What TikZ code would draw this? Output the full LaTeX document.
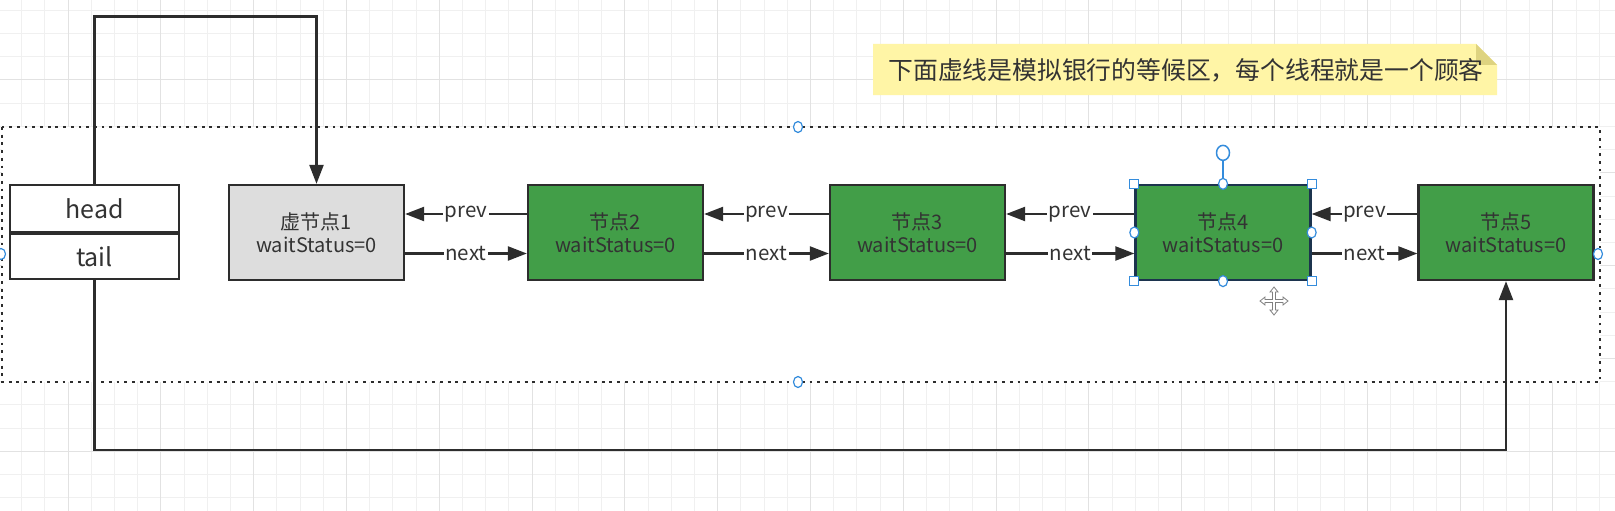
\documentclass[tikz,border=0pt]{standalone}
\usepackage{fontspec}
\setmainfont{Noto Sans CJK SC}
\usetikzlibrary{arrows.meta,calc}
\definecolor{gridminor}{RGB}{240,240,240}
\definecolor{gridmajor}{RGB}{226,226,226}
\definecolor{boxline}{RGB}{45,45,45}
\definecolor{txt}{RGB}{51,51,51}
\definecolor{nodegreen}{RGB}{66,158,72}
\definecolor{nodegray}{RGB}{221,221,221}
\definecolor{notefill}{RGB}{255,245,166}
\definecolor{notefold}{RGB}{222,211,128}
\definecolor{selblue}{RGB}{52,140,220}
\definecolor{selline}{RGB}{28,52,78}
\begin{document}
\begin{tikzpicture}[x=1pt,y=-1pt,
  box/.style={draw=boxline, line width=2.3pt, minimum width=175pt, minimum height=95pt,
    inner sep=0pt, align=center, text=txt, font=\fontsize{20}{23}\selectfont},
  greenbox/.style={box, fill=nodegreen},
  graybox/.style={box, fill=nodegray},
  ptrbox/.style={draw=boxline, line width=2.3pt, fill=white, minimum width=169pt,
    inner sep=0pt, text=txt, font=\fontsize{25}{25}\selectfont},
  arr/.style={draw=boxline, line width=2.3pt, -{Triangle[length=19pt,width=14pt]}},
  lbl/.style={fill=white, inner sep=1.5pt, text=txt, font=\fontsize{20.5}{20.5}\selectfont},
  zone/.style={draw=boxline, fill=white, line width=2.6pt, dash pattern=on 2.8pt off 4.9pt},
  handlesq/.style={draw=selblue, fill=white, line width=1.2pt, minimum size=9pt, inner sep=0pt, rectangle},
]
\useasboundingbox (0,0) rectangle (1615,511);
\fill[white] (0,0) rectangle (1615,511);
% canvas grid
\foreach \i in {0,...,69} {
  \draw[gridminor, line width=1pt] ({21.6+23.2*\i},0) -- ({21.6+23.2*\i},511);
}
\foreach \i in {0,...,21} {
  \draw[gridminor, line width=1pt] (0,{10.4+23.2*\i}) -- (1615,{10.4+23.2*\i});
}
\foreach \i in {0,...,17} {
  \draw[gridmajor, line width=1pt] ({68+92.8*\i},0) -- ({68+92.8*\i},511);
}
\foreach \i in {0,...,5} {
  \draw[gridmajor, line width=1pt] (0,{80+92.8*\i}) -- (1615,{80+92.8*\i});
}
% waiting zone
\draw[zone] (2,127) rectangle (1600,382);
% note
\fill[notefill] (873,44) -- (1476,44) -- (1497,65) -- (1497,95) -- (873,95) -- cycle;
\fill[notefold] (1476,44) -- (1476,65) -- (1497,65) -- cycle;
\node[text=txt, font=\fontsize{24.8}{24.8}\selectfont, inner sep=0pt] (note) at (1186,70)
  {下面虚线是模拟银行的等候区，每个线程就是一个顾客};
% head / tail
\node[ptrbox, minimum height=47pt] (head) at (94.5,208.5) {head};
\node[ptrbox, minimum height=45pt] (tail) at (94.5,256.5) {tail};
% queue nodes
\node[graybox]  (n1) at (316.5,232.5) {虚节点1\\waitStatus=0};
\node[greenbox] (n2) at (615.5,232.5) {节点2\\waitStatus=0};
\node[greenbox] (n3) at (917.5,232.5) {节点3\\waitStatus=0};
\node[greenbox, draw=selline] (n4) at (1223,232.5) {节点4\\waitStatus=0};
\node[greenbox] (n5) at (1506,232.5) {节点5\\waitStatus=0};
% prev / next links
\foreach \a/\b in {n1/n2,n2/n3,n3/n4,n4/n5} {
  \draw[arr] ([yshift=18.5pt]\b.west) -- node[lbl]{prev} ([yshift=18.5pt]\a.east);
  \draw[arr] ([yshift=-21pt]\a.east) -- node[lbl]{next} ([yshift=-21pt]\b.west);
}
% head and tail pointers
\coordinate (htop) at (200,16.5);
\coordinate (tbot) at (800,450);
\draw[arr] (head.north) |- (htop) -| (n1.north);
\draw[arr] (tail.south) |- (tbot) -| (n5.south);
% selection handles of the waiting zone
\foreach \p in {(798,127),(798,382),(1,254),(1598,254)} {
  \draw[selblue, fill=white, line width=1.2pt] \p ellipse (4.5pt and 5.5pt);
}
% selection handles of node 4
\draw[selblue, line width=1.2pt] (n4.north) -- ++(0,-24);
\draw[selblue, fill=white, line width=1.5pt] ($(n4.north)+(0,-31)$) ellipse (6.5pt and 7.5pt);
\foreach \c in {north west,north east,south west,south east} {
  \node[handlesq] at (n4.\c) {};
}
\foreach \c in {north,south,west,east} {
  \draw[selblue, fill=white, line width=1.2pt] (n4.\c) ellipse (4.5pt and 5.5pt);
}
% move cursor
\begin{scope}[shift={(1274,301)}]
  \draw[gray, fill=white, line width=0.8pt]
    (0,-14) -- (4,-9) -- (1.5,-9) -- (1.5,-1.5) -- (9,-1.5) -- (9,-4) -- (14,0)
    -- (9,4) -- (9,1.5) -- (1.5,1.5) -- (1.5,9) -- (4,9) -- (0,14) -- (-4,9)
    -- (-1.5,9) -- (-1.5,1.5) -- (-9,1.5) -- (-9,4) -- (-14,0) -- (-9,-4)
    -- (-9,-1.5) -- (-1.5,-1.5) -- (-1.5,-9) -- (-4,-9) -- cycle;
\end{scope}
\end{tikzpicture}
\end{document}
